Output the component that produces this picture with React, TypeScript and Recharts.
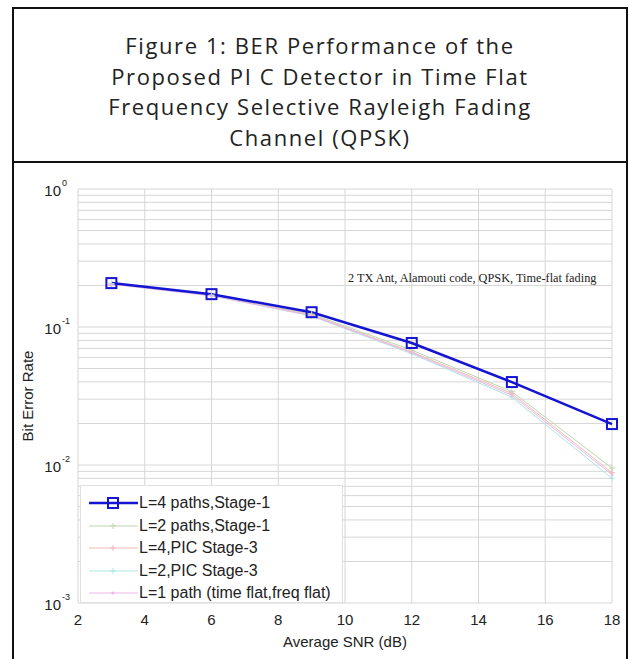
import { LineChart, Line, XAxis, YAxis, CartesianGrid } from 'recharts';

/* eslint-disable @typescript-eslint/no-explicit-any */

const snr = [3, 6, 9, 12, 15, 18];
const l4Stage1 = [0.208, 0.173, 0.128, 0.0766, 0.0399, 0.0198];
const l2Stage1 = [0.205, 0.17, 0.124, 0.068, 0.034, 0.0095];
const l4Pic3 = [0.205, 0.17, 0.122, 0.066, 0.033, 0.0088];
const l2Pic3 = [0.206, 0.169, 0.12, 0.064, 0.031, 0.008];
const l1Flat = [0.204, 0.168, 0.121, 0.065, 0.032, 0.0085];

const xTicks = [2, 4, 6, 8, 10, 12, 14, 16, 18];
const decades = [0.001, 0.01, 0.1];
const mantissas = [1, 2, 3, 4, 5, 6, 7, 8, 9];
const yTicks = [...decades.flatMap((d) => mantissas.map((m) => +(d * m).toPrecision(3))), 1];

const seriesNames = [
  'L=4 paths,Stage-1',
  'L=2 paths,Stage-1',
  'L=4,PIC Stage-3',
  'L=2,PIC Stage-3',
  'L=1 path (time flat,freq flat)',
];
const seriesColors = ['#1414d2', '#bcd6ae', '#f2b8b8', '#ade6df', '#ebb8e8'];

const rows = snr.map((s, i) => ({
  snr: s,
  a: l4Stage1[i],
  b: l2Stage1[i],
  c: l4Pic3[i],
  d: l2Pic3[i],
  e: l1Flat[i],
}));

const font = '"Liberation Sans", Arial, sans-serif';

function YTick({ x, y, payload }: any) {
  const v = payload.value;
  const exp = Math.round(Math.log10(v));
  if (Math.abs(Math.pow(10, exp) - v) > 1e-9) return null;
  return (
    <g>
      <text x={x - 9} y={y + 7} textAnchor="end" fontSize={15} fill="#222" fontFamily={font}>10</text>
      <text x={x - 8} y={y - 3} textAnchor="start" fontSize={9} fill="#222" fontFamily={font}>{exp}</text>
    </g>
  );
}

function PlusDot({ cx, cy, stroke }: any) {
  return (
    <g stroke={stroke} strokeWidth={1}>
      <line x1={cx - 3} y1={cy} x2={cx + 3} y2={cy} />
      <line x1={cx} y1={cy - 3} x2={cx} y2={cy + 3} />
    </g>
  );
}

function SquareDot({ cx, cy, stroke }: any) {
  return <rect x={cx - 5} y={cy - 5} width={10} height={10} fill="none" stroke={stroke} strokeWidth={2} />;
}

function SmallDot({ cx, cy, stroke }: any) {
  return <circle cx={cx} cy={cy} r={1.5} fill={stroke} stroke="none" />;
}

const dotFor = [SquareDot, PlusDot, PlusDot, PlusDot, SmallDot];

export default function App() {
  const keys = ['a', 'b', 'c', 'd', 'e'];
  return (
    <div style={{ position: 'absolute', left: 0, top: 0, width: 629, height: 659, background: '#fff', overflow: 'hidden' }}>
      <div
        style={{
          position: 'absolute', left: 12, top: 7, width: 612, height: 653,
          border: '2px solid #111', borderBottom: 'none',
        }}
      />
      <div
        style={{
          position: 'absolute', left: 12, top: 30, width: 616, textAlign: 'center',
          fontFamily: '"Open Sans", sans-serif', fontSize: 22, letterSpacing: 1.6, lineHeight: '30.5px', color: '#222',
        }}
      >
        Figure 1: BER Performance of the<br />
        Proposed PI C Detector in Time Flat<br />
        Frequency Selective Rayleigh Fading<br />
        Channel (QPSK)
      </div>
      <div style={{ position: 'absolute', left: 12, top: 161, width: 616, height: 2, background: '#111' }} />

      <div style={{ position: 'absolute', left: 0, top: 0 }}>
        <LineChart width={629} height={659} data={rows} margin={{ top: 189, right: 17, left: 38, bottom: 26 }}>
          <CartesianGrid stroke="#d6d6d6" strokeWidth={1} />
          <XAxis
            dataKey="snr"
            type="number"
            domain={[2, 18]}
            ticks={xTicks}
            height={30}
            axisLine={false}
            tickLine={false}
            tick={{ fontSize: 15, fill: '#222', fontFamily: font, dy: 3 }}
            label={{ value: 'Average SNR (dB)', position: 'insideBottom', offset: -14, fontSize: 15, fill: '#222', fontFamily: font }}
          />
          <YAxis
            type="number"
            scale="log"
            domain={[0.001, 1]}
            allowDataOverflow
            ticks={yTicks}
            interval={0}
            width={40}
            axisLine={false}
            tickLine={false}
            tick={<YTick />}
            label={{ value: 'Bit Error Rate', angle: -90, position: 'insideLeft', dx: -15, fontSize: 15, fill: '#222', fontFamily: font, style: { textAnchor: 'middle' } }}
          />
          {keys.slice(1).map((k, i) => {
            const Dot = dotFor[i + 1];
            return (
              <Line
                key={k}
                dataKey={k}
                stroke={seriesColors[i + 1]}
                strokeWidth={1}
                dot={<Dot />}
                isAnimationActive={false}
              />
            );
          })}
          <Line dataKey="a" stroke={seriesColors[0]} strokeWidth={2.5} dot={<SquareDot />} isAnimationActive={false} />
        </LineChart>
      </div>

      <div
        style={{
          position: 'absolute', left: 348, top: 271, fontFamily: '"Liberation Serif", serif',
          fontSize: 12.3, color: '#222', whiteSpace: 'nowrap',
        }}
      >
        2 TX Ant, Alamouti code, QPSK, Time-flat fading
      </div>

      <div
        style={{
          position: 'absolute', left: 80, top: 485, width: 261, height: 116, background: '#fff',
          border: '1px solid #e0e0e0', fontFamily: font, fontSize: 16, color: '#222',
        }}
      >
        {seriesNames.map((name, i) => {
          const Dot = dotFor[i];
          return (
            <div key={name} style={{ position: 'absolute', left: 0, top: 6 + i * 22.5, height: 22, display: 'flex', alignItems: 'center' }}>
              <svg width={58} height={22} style={{ display: 'block' }}>
                <line x1={8} y1={11} x2={57} y2={11} stroke={seriesColors[i]} strokeWidth={i === 0 ? 2.5 : 1} />
                <Dot cx={32} cy={11} stroke={seriesColors[i]} />
              </svg>
              <span style={{ whiteSpace: 'nowrap' }}>{name}</span>
            </div>
          );
        })}
      </div>
    </div>
  );
}
